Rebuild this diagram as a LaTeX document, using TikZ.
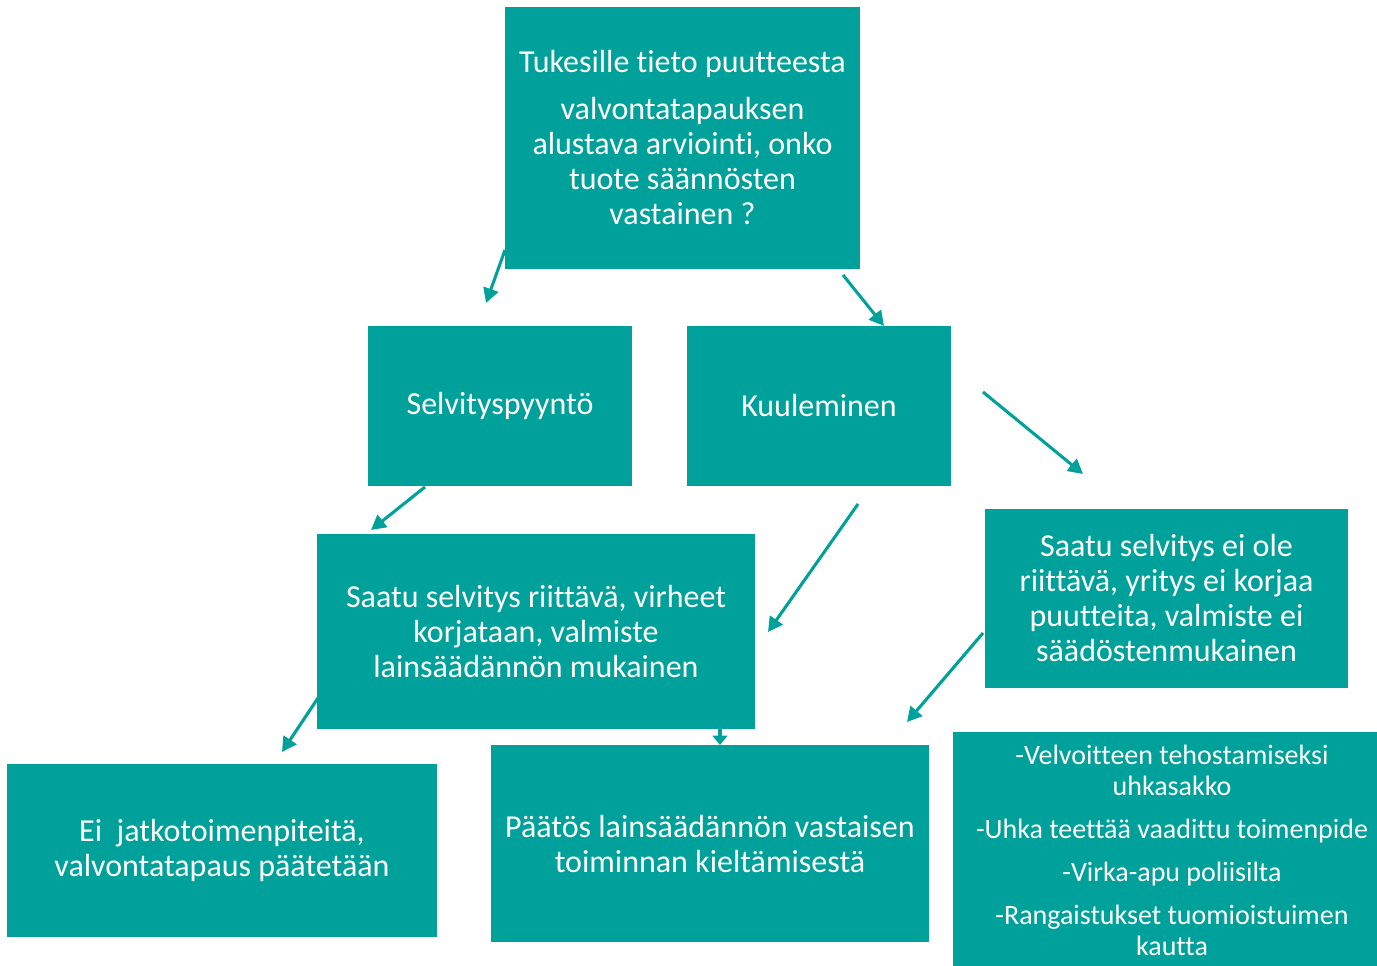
\documentclass[tikz,border=0pt]{standalone}
\usepackage{fontspec}
\setmainfont{Carlito}[Ligatures={NoCommon}]
\usetikzlibrary{arrows.meta}
\definecolor{tk}{RGB}{0,161,154}
\tikzset{
  box/.style={fill=tk, draw=none, text=white, align=center, inner sep=0pt,
    font=\fontsize{24}{26.25}\selectfont},
  smallbox/.style={box, font=\fontsize{21}{23.25}\selectfont},
  conn/.style={draw=tk, line width=2.3pt, -{Triangle[length=11pt,width=11.5pt]}},
}
\begin{document}
\begin{tikzpicture}[x=0.75pt,y=-0.75pt]
\useasboundingbox (0,0) rectangle (1377,966);
\node[box, minimum width=266.25pt, minimum height=196.5pt] (top) at (682.5,138)
  {Tukesille tieto puutteesta\\[9pt] valvontatapauksen\\ alustava arviointi, onko\\ tuote säännösten\\ vastainen ?};
\node[box, minimum width=198pt, minimum height=120pt] (selv) at (500,406) {Selvityspyyntö};
\node[box, minimum width=198pt, minimum height=120pt] (kuul) at (819,406) {Kuuleminen};
\node[box, minimum width=328.5pt, minimum height=146.25pt] (ok) at (536,631.5)
  {Saatu selvitys riittävä, virheet\\ korjataan, valmiste\\ lainsäädännön mukainen};
\node[box, minimum width=272.25pt, minimum height=134.25pt] (notok) at (1166.5,598.5)
  {Saatu selvitys ei ole\\ riittävä, yritys ei korjaa\\ puutteita, valmiste ei\\ säädöstenmukainen};
\node[box, minimum width=322.5pt, minimum height=129.75pt] (ei) at (222,850.5)
  {Ei\ \ jatkotoimenpiteitä,\\ valvontatapaus päätetään};
\node[box, minimum width=328.5pt, minimum height=147.75pt] (paatos) at (710,843.5)
  {Päätös lainsäädännön vastaisen\\ toiminnan kieltämisestä};
\node[box, minimum width=318pt, minimum height=175.5pt] (keinot) at (1165,849) {};
\node[smallbox, fill=none] (keinotxt) at (1172,850)
  {-Velvoitteen tehostamiseksi\\ uhkasakko\\[9pt] -Uhka teettää vaadittu toimenpide\\[9pt] -Virka-apu poliisilta\\[9pt] -Rangaistukset tuomioistuimen\\ kautta};
% connector end points
\coordinate (a1s) at (505,250); \coordinate (a1e) at (486,303);
\coordinate (a2s) at (843,275); \coordinate (a2e) at (884,326);
\coordinate (a3s) at (983,392); \coordinate (a3e) at (1083,474);
\coordinate (a4s) at (425,487); \coordinate (a4e) at (371,530);
\coordinate (a5s) at (858,504); \coordinate (a5e) at (768,632);
\coordinate (a6s) at (983,633); \coordinate (a6e) at (907,722);
\coordinate (a7s) at (318,698); \coordinate (a7e) at (282,752);
\coordinate (a8s) at (720,729); \coordinate (a8e) at (720,745);
\draw[conn] (a1s) -- (a1e);
\draw[conn] (a2s) -- (a2e);
\draw[conn] (a3s) -- (a3e);
\draw[conn] (a4s) -- (a4e);
\draw[conn] (a5s) -- (a5e);
\draw[conn] (a6s) -- (a6e);
\draw[conn] (a7s) -- (a7e);
\draw[conn, -{Triangle[length=7pt,width=11pt]}] (a8s) -- (a8e);
\end{tikzpicture}
\end{document}
